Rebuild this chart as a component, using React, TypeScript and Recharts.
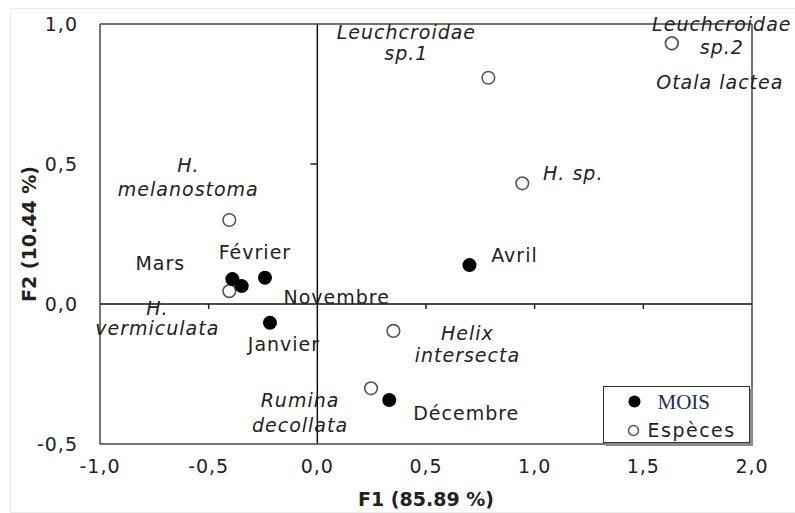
import {
  ScatterChart,
  Scatter,
  XAxis,
  YAxis,
  ReferenceLine,
  ReferenceDot,
  Legend,
} from "recharts";

// months (filled points)
const months = ["Mars", "Novembre", "Février", "Janvier", "Avril", "Décembre"];
const monthF1 = [-0.391, -0.348, -0.241, -0.218, 0.7, 0.331];
const monthF2 = [0.089, 0.064, 0.094, -0.067, 0.139, -0.343];

// species (open points)
const species = [
  "Leuchcroidae sp.1",
  "Leuchcroidae sp.2",
  "Otala lactea",
  "H. sp.",
  "H. melanostoma",
  "H. vermiculata",
  "Helix intersecta",
  "Rumina decollata",
];
const speciesF1 = [0.787, 1.631, 1.631, 0.943, -0.405, -0.405, 0.35, 0.247];
const speciesF2 = [0.808, 0.931, 0.931, 0.431, 0.3, 0.046, -0.096, -0.301];

const xTicks = [-1, -0.5, 0, 0.5, 1, 1.5, 2];
const yTicks = [-0.5, 0, 0.5, 1];
const xInnerTicks = [-0.5, 0.5, 1, 1.5];
const yInnerTicks = [0.5];

const monthData = months.map((name, i) => ({ name, x: monthF1[i], y: monthF2[i] }));
const speciesData = species.map((name, i) => ({ name, x: speciesF1[i], y: speciesF2[i] }));

const FONT = "'DejaVu Sans', sans-serif";
const fmt = (v: number) => v.toFixed(1).replace(".", ",");

// label placement relative to each point (px)
const labelPos: Record<string, { dx: number; dy: number; lh?: number; wrap?: boolean }> = {
  Mars: { dx: -72, dy: -16 },
  Novembre: { dx: 95, dy: 11 },
  "Février": { dx: -10, dy: -26 },
  Janvier: { dx: 14, dy: 21 },
  Avril: { dx: 45, dy: -10 },
  "Décembre": { dx: 77, dy: 13 },
  "Leuchcroidae sp.1": { dx: -82, dy: -46, lh: 21, wrap: true },
  "Leuchcroidae sp.2": { dx: 50, dy: -19, lh: 23, wrap: true },
  "Otala lactea": { dx: 48, dy: 39 },
  "H. sp.": { dx: 51, dy: -10 },
  "H. melanostoma": { dx: -41, dy: -55, lh: 24, wrap: true },
  "H. vermiculata": { dx: -72, dy: 17, lh: 20, wrap: true },
  "Helix intersecta": { dx: 74, dy: 2, lh: 22, wrap: true },
  "Rumina decollata": { dx: -71, dy: 12, lh: 25, wrap: true },
};

function splitName(name: string) {
  const i = name.indexOf(" ");
  return i < 0 ? [name] : [name.slice(0, i), name.slice(i + 1)];
}

function makePoint(filled: boolean) {
  return (props: any) => {
    const { cx, cy, payload } = props;
    const pos = labelPos[payload.name] || { dx: 0, dy: -18 };
    const lines = pos.wrap ? splitName(payload.name) : [payload.name];
    const tx = cx + pos.dx;
    return (
      <g>
        {filled ? (
          <circle cx={cx} cy={cy} r={7} fill="#000" />
        ) : (
          <circle cx={cx} cy={cy} r={6.3} fill="#fff" stroke="#555" strokeWidth={1.6} />
        )}
        <text
          x={tx}
          y={cy + pos.dy}
          textAnchor="middle"
          fontFamily={FONT}
          fontSize={19}
          fontStyle={filled ? "normal" : "italic"}
          letterSpacing={1}
          fill="#222"
        >
          {lines.map((l, i) => (
            <tspan key={i} x={tx} dy={i === 0 ? "0.36em" : pos.lh || 22}>
              {l}
            </tspan>
          ))}
        </text>
      </g>
    );
  };
}

function XTick(props: any) {
  const { cx, cy } = props;
  return <line x1={cx} y1={cy} x2={cx} y2={cy + 5} stroke="#222" strokeWidth={1.5} />;
}

function YTick(props: any) {
  const { cx, cy } = props;
  return <line x1={cx} y1={cy} x2={cx - 7} y2={cy} stroke="#222" strokeWidth={1.5} />;
}

function XTitle(props: any) {
  const { x, y, width } = props.viewBox;
  return (
    <text x={x + width / 2} y={y + 62} textAnchor="middle" fontFamily={FONT} fontSize={19} fontWeight="bold" fill="#222">
      F1 (85.89 %)
    </text>
  );
}

function YTitle(props: any) {
  const { x, y, height } = props.viewBox;
  const tx = x + 36;
  const ty = y + height / 2;
  return (
    <text
      x={tx}
      y={ty}
      transform={`rotate(-90, ${tx}, ${ty})`}
      textAnchor="middle"
      fontFamily={FONT}
      fontSize={19}
      fontWeight="bold"
      fill="#222"
    >
      F2 (10.44 %)
    </text>
  );
}

function LegendBox() {
  return (
    <div
      style={{
        width: 147,
        height: 57,
        border: "1.5px solid #333",
        boxShadow: "3px 3px 0 #8a8a8a",
        background: "#fff",
        boxSizing: "border-box",
      }}
    >
      <svg width={145} height={55} style={{ display: "block" }}>
        <circle cx={30.5} cy={14.5} r={6} fill="#000" />
        <text x={53.5} y={14.5} dy="0.35em" fontFamily="'Liberation Serif', serif" fontSize={21} fill="#1f2d5c">
          MOIS
        </text>
        <circle cx={29.5} cy={43.5} r={5} fill="#fff" stroke="#555" strokeWidth={1.5} />
        <text x={43.5} y={43.5} dy="0.36em" fontFamily={FONT} fontSize={19} letterSpacing={1.5} fill="#222">
          Espèces
        </text>
      </svg>
    </div>
  );
}

export default function App() {
  return (
    <div style={{ position: "absolute", left: 0, top: 0, width: 795, height: 513, background: "#fff", overflow: "hidden" }}>
      <div
        style={{
          position: "absolute",
          left: 10,
          top: 8,
          width: 800,
          height: 503,
          border: "1px solid #ebebeb",
        }}
      />
      <ScatterChart width={795} height={513} margin={{ top: 24, right: 43, bottom: 9, left: 0 }}>
        <XAxis
          type="number"
          dataKey="x"
          domain={[-1, 2]}
          ticks={xTicks}
          tickFormatter={fmt}
          height={60}
          axisLine={{ stroke: "#444", strokeWidth: 1.5 }}
          tickLine={false}
          tickSize={0}
          tickMargin={16}
          tick={{ fontFamily: FONT, fontSize: 19, fill: "#222", letterSpacing: 1 }}
          label={<XTitle />}
        />
        <YAxis
          type="number"
          dataKey="y"
          domain={[-0.5, 1]}
          ticks={yTicks}
          tickFormatter={fmt}
          width={100}
          axisLine={{ stroke: "#444", strokeWidth: 1.5 }}
          tickLine={false}
          tickSize={0}
          tickMargin={22}
          tick={{ fontFamily: FONT, fontSize: 19, fill: "#222", letterSpacing: 1 }}
          label={<YTitle />}
        />
        <ReferenceLine y={1} stroke="#444" strokeWidth={1.5} />
        <ReferenceLine x={2} stroke="#444" strokeWidth={1.5} />
        <ReferenceLine x={0} stroke="#111" strokeWidth={1.5} />
        <ReferenceLine y={0} stroke="#111" strokeWidth={1.5} />
        {xInnerTicks.map((t) => (
          <ReferenceDot key={`xt${t}`} x={t} y={0} r={0} shape={<XTick />} />
        ))}
        {yInnerTicks.map((t) => (
          <ReferenceDot key={`yt${t}`} x={0} y={t} r={0} shape={<YTick />} />
        ))}
        <Scatter name="Espèces" data={speciesData} shape={makePoint(false)} isAnimationActive={false} />
        <Scatter name="MOIS" data={monthData} shape={makePoint(true)} isAnimationActive={false} />
        <Legend
          layout="horizontal"
          align="center"
          verticalAlign="middle"
          width={152}
          height={62}
          wrapperStyle={{ left: 603, top: 386 }}
          content={() => <LegendBox />}
        />
      </ScatterChart>
    </div>
  );
}
